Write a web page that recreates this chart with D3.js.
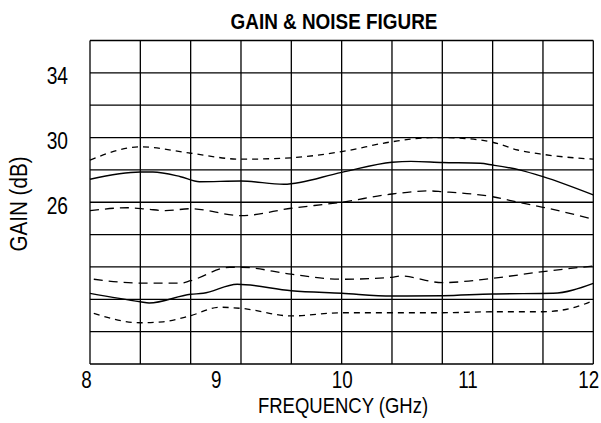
<!DOCTYPE html>
<html>
<head>
<meta charset="utf-8">
<script src="https://cdn.jsdelivr.net/npm/d3@7"></script>
<style>
  html, body { margin: 0; padding: 0; background: #fff; }
  svg { display: block; }
  text { font-family: "Liberation Sans", Arial, sans-serif; fill: #000; }
</style>
</head>
<body>
<svg id="chart" width="601" height="423"></svg>
<script>
// ---- data (frequency GHz, value dB on gain axis) ----
const xTicks = [8, 9, 10, 11, 12];
const yTickLabels = [34, 30, 26];
const gainMax = [[8,28.61],[8.4,29.43],[8.8,29.03],[9.2,28.66],[9.6,28.75],[10.0,29.13],[10.4,29.74],[10.7,29.99],[10.85,29.99],[11.0,29.93],[11.2,29.71],[11.4,29.23],[11.6,28.96],[12,28.66]];
const gainTyp = [[8,27.42],[8.4,27.87],[8.5,27.87],[8.72,27.58],[8.87,27.27],[9.2,27.31],[9.54,27.11],[10.0,27.85],[10.4,28.47],[10.55,28.53],[10.8,28.46],[11.1,28.41],[11.2,28.30],[11.42,27.99],[11.6,27.58],[12,26.45]];
const gainMin = [[8,25.48],[8.3,25.66],[8.45,25.58],[8.6,25.48],[8.8,25.6],[9.2,25.17],[9.6,25.63],[10.0,26.0],[10.4,26.51],[10.7,26.70],[10.8,26.65],[11.2,26.34],[11.42,25.97],[11.6,25.69],[12,24.95]];
const nfMax = [[8.03,21.24],[8.4,21.0],[8.72,21.0],[8.8,21.15],[9.11,21.98],[9.2,21.98],[9.6,21.55],[10.0,21.24],[10.4,21.36],[10.47,21.44],[10.8,21.03],[11.2,21.30],[11.6,21.71],[12,22.06]];
const nfTyp = [[8,20.37],[8.4,19.85],[8.47,19.77],[8.8,20.31],[8.9,20.37],[9.17,20.93],[9.6,20.53],[10.0,20.37],[10.4,20.20],[10.8,20.22],[11.2,20.33],[11.68,20.37],[12,20.99]];
const nfMin = [[8.03,19.13],[8.4,18.55],[8.58,18.61],[8.8,18.99],[9.03,19.51],[9.2,19.44],[9.6,18.97],[10.0,19.17],[10.4,19.17],[10.8,19.17],[11.2,19.23],[11.6,19.23],[11.82,19.44],[12,19.91]];

const svg = d3.select("#chart");
const L = 90, R = 593.3, T = 40.5, B = 364;
const SX = 0.8; // horizontal condensing of text
const x = d3.scaleLinear().domain([8, 12]).range([L, R]);
const y = d3.scaleLinear().domain([16, 36]).range([B, T]);

// grid
const g = svg.append("g");
const vGrid = d3.range(8, 12.0001, 0.4);
const hGrid = d3.range(16, 36.0001, 2);
g.selectAll("line.v").data(vGrid).join("line")
  .attr("x1", d => x(d)).attr("x2", d => x(d)).attr("y1", T).attr("y2", B)
  .attr("stroke", "#000").attr("stroke-width", 1.3);
g.selectAll("line.h").data(hGrid).join("line")
  .attr("y1", d => y(d)).attr("y2", d => y(d)).attr("x1", L).attr("x2", R)
  .attr("stroke", "#000").attr("stroke-width", 1.3);

// curves
const line = d3.line().x(d => x(d[0])).y(d => y(d[1])).curve(d3.curveMonotoneX);
const series = [
  {d: gainMax, dash: "6,5", w: 1.3},
  {d: gainTyp, dash: null, w: 1.4},
  {d: gainMin, dash: "9,6", w: 1.3},
  {d: nfMax, dash: "9,6", w: 1.3},
  {d: nfTyp, dash: null, w: 1.4},
  {d: nfMin, dash: "6,5", w: 1.3}
];
svg.selectAll("path.s").data(series).join("path")
  .attr("d", s => line(s.d)).attr("fill", "none").attr("stroke", "#000")
  .attr("stroke-width", s => s.w).attr("stroke-dasharray", s => s.dash);

// x tick labels
const xAxis = d3.axisBottom(x).tickValues(xTicks).tickSize(0).tickPadding(0).tickFormat(d3.format("d"));
const xa = svg.append("g").attr("transform", `translate(0,${B})`).call(xAxis);
xa.select(".domain").remove();
xa.selectAll("text").attr("font-size", 23.5).attr("dy", null).attr("y", 24)
  .attr("font-family", "\"Liberation Sans\", Arial, sans-serif").attr("fill", "#000")
  .attr("transform", d => `translate(${d === 12 ? -5 : (d === 8 ? -4 : 0)},0) scale(${SX},1)`);

// y tick labels
const yAxis = d3.axisLeft(y).tickValues(yTickLabels).tickSize(0).tickPadding(0).tickFormat(d3.format("d"));
const ya = svg.append("g").attr("transform", `translate(${L},0)`).call(yAxis);
ya.select(".domain").remove();
ya.selectAll("text").attr("font-size", 24).attr("x", -22 / SX).attr("dy", "0.45em")
  .attr("font-family", "\"Liberation Sans\", Arial, sans-serif").attr("fill", "#000")
  .attr("transform", `scale(${SX},1)`);

// titles
svg.append("text").attr("transform", `translate(334,29) scale(0.86,1)`).attr("text-anchor", "middle")
  .attr("font-size", 22).attr("font-weight", "bold").text("GAIN & NOISE FIGURE");
svg.append("text").attr("transform", `translate(343,413) scale(0.86,1)`).attr("text-anchor", "middle")
  .attr("font-size", 21.5).text("FREQUENCY (GHz)");
svg.append("text").attr("transform", "translate(27,204) rotate(-90) scale(0.86,1)").attr("text-anchor", "middle")
  .attr("font-size", 24).text("GAIN (dB)");
</script>
</body>
</html>
